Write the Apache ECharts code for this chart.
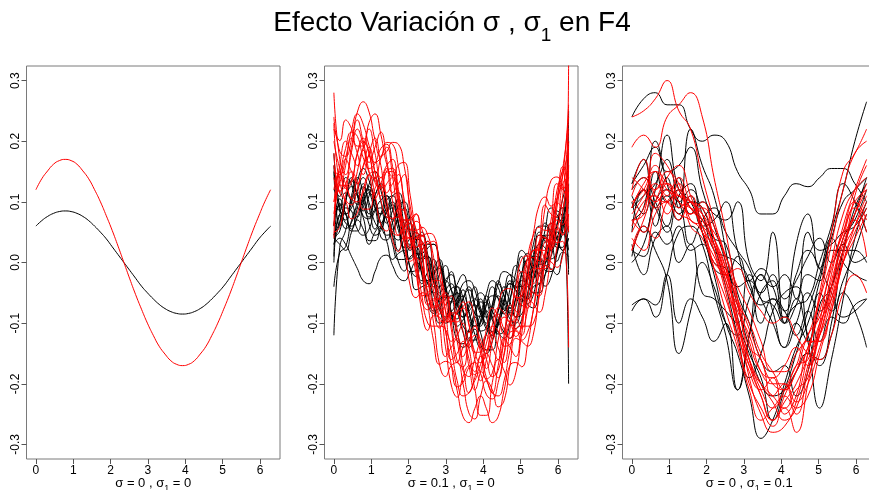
<!DOCTYPE html>
<html><head><meta charset="utf-8">
<script src="https://cdn.jsdelivr.net/npm/echarts@6/dist/echarts.min.js"></script>
<style>html,body{margin:0;padding:0;background:#fff}#c{width:869px;height:490px}</style>
</head><body><div id="c"></div>
<script>
// fine x grid (0 .. 2π, step π/20) for panels 1 and 2
const xsFine = [0, 0.157, 0.314, 0.471, 0.628, 0.785, 0.942, 1.100, 1.257, 1.414, 1.571, 1.728, 1.885, 2.042, 2.199, 2.356, 2.513, 2.670, 2.827, 2.985, 3.142, 3.299, 3.456, 3.613, 3.770, 3.927, 4.084, 4.241, 4.398, 4.555, 4.712, 4.869, 5.027, 5.184, 5.341, 5.498, 5.655, 5.812, 5.969, 6.126, 6.283];
// coarse x grid (0 .. 2π, step π/10) for panel 3
const xsCoarse = [0, 0.314, 0.628, 0.942, 1.257, 1.571, 1.885, 2.199, 2.513, 2.827, 3.142, 3.456, 3.770, 4.084, 4.398, 4.712, 5.027, 5.341, 5.655, 5.969, 6.283];
const xTicks = [0, 1, 2, 3, 4, 5, 6];
const yTicks = [-0.3, -0.2, -0.1, 0, 0.1, 0.2, 0.3];
const panelLabels = [['σ = 0 , σ', '1', ' = 0'], ['σ = 0.1 , σ', '1', ' = 0'], ['σ = 0 , σ', '1', ' = 0.1']];

// Panel 1 (σ = 0, σ1 = 0)
const p1Black = [0.060, 0.069, 0.076, 0.081, 0.084, 0.085, 0.084, 0.081, 0.076, 0.069, 0.060, 0.050, 0.039, 0.026, 0.013, 0, -0.013, -0.026, -0.039, -0.050, -0.060, -0.069, -0.076, -0.081, -0.084, -0.085, -0.084, -0.081, -0.076, -0.069, -0.060, -0.050, -0.039, -0.026, -0.013, 0, 0.013, 0.026, 0.039, 0.050, 0.060];
const p1Red = [0.120, 0.138, 0.151, 0.162, 0.168, 0.170, 0.168, 0.162, 0.151, 0.138, 0.120, 0.100, 0.077, 0.053, 0.027, 0, -0.027, -0.053, -0.077, -0.100, -0.120, -0.138, -0.151, -0.162, -0.168, -0.170, -0.168, -0.162, -0.151, -0.138, -0.120, -0.100, -0.077, -0.053, -0.027, 0, 0.027, 0.053, 0.077, 0.100, 0.120];

// Panel 2 (σ = 0.1, σ1 = 0), on the fine grid
const p2Black = [
[0.18, 0.09, 0.07, 0.11, 0.14, 0.115, 0.08, 0.11, 0.13, 0.095, 0.055, 0.075, 0.09, 0.05, 0.005, 0.02, 0.035, -0.01, -0.05, -0.035, -0.015, -0.055, -0.09, -0.07, -0.04, -0.075, -0.10, -0.07, -0.03, -0.055, -0.075, -0.035, 0.01, -0.01, -0.025, 0.02, 0.065, 0.05, 0.03, 0.075, 0.10],
[0.00, 0.079, 0.056, 0.066, 0.099, 0.125, 0.099, 0.066, 0.056, 0.084, 0.095, 0.064, 0.016, 0.006, 0.024, 0.030, -0.006, -0.054, -0.064, -0.046, -0.035, -0.066, -0.104, -0.114, -0.081, -0.065, -0.081, -0.114, -0.104, -0.066, -0.035, -0.046, -0.064, -0.054, -0.006, 0.030, 0.024, 0.006, 0.016, 0.064, 0.02],
[-0.12, 0.025, 0.053, 0.098, 0.115, 0.103, 0.063, 0.045, 0.053, 0.083, 0.090, 0.063, 0.013, -0.015, -0.013, 0.008, 0.010, -0.023, -0.068, -0.100, -0.093, -0.068, -0.055, -0.083, -0.118, -0.140, -0.118, -0.083, -0.055, -0.068, -0.093, -0.100, -0.068, -0.023, 0.010, 0.008, -0.013, -0.015, 0.013, 0.063, -0.20],
[0.045, 0.080, 0.115, 0.100, 0.075, 0.105, 0.125, 0.100, 0.065, 0.085, 0.100, 0.065, 0.025, 0.040, 0.050, 0.010, -0.030, -0.020, -0.005, -0.045, -0.080, -0.065, -0.045, -0.080, -0.105, -0.085, -0.055, -0.080, -0.095, -0.065, -0.030, -0.045, -0.055, -0.020, 0.020, 0.010, 0.000, 0.040, 0.075, 0.065, 0.25],
[0.12, 0.109, 0.140, 0.129, 0.096, 0.101, 0.129, 0.150, 0.119, 0.081, 0.071, 0.094, 0.100, 0.069, 0.021, 0.006, 0.024, 0.030, -0.001, -0.049, -0.059, -0.036, -0.020, -0.051, -0.084, -0.089, -0.051, -0.030, -0.041, -0.069, -0.059, -0.016, 0.020, 0.009, -0.009, 0.006, 0.054, 0.090, 0.079, 0.061, 0.08],
[0.03, 0.04, 0.03, 0.01, -0.01, -0.03, -0.035, -0.015, 0.008, 0.012, -0.005, -0.025, -0.03, -0.015, 0.000, -0.01, -0.035, -0.05, -0.04, -0.03, -0.045, -0.07, -0.09, -0.08, -0.07, -0.085, -0.11, -0.12, -0.10, -0.08, -0.075, -0.09, -0.085, -0.06, -0.04, -0.035, -0.02, 0.01, 0.03, 0.02, 0.04],
[0.090, 0.085, 0.065, 0.060, 0.075, 0.110, 0.120, 0.105, 0.065, 0.045, 0.050, 0.070, 0.070, 0.045, 0.000, -0.030, -0.030, -0.015, -0.010, -0.040, -0.080, -0.105, -0.095, -0.075, -0.060, -0.080, -0.105, -0.120, -0.095, -0.060, -0.035, -0.040, -0.055, -0.060, -0.030, 0.015, 0.045, 0.045, 0.025, 0.025, 0.13],
[0.042, 0.052, 0.101, 0.135, 0.111, 0.077, 0.072, 0.111, 0.125, 0.096, 0.047, 0.037, 0.061, 0.075, 0.036, -0.018, -0.033, -0.010, 0.005, -0.035, -0.083, -0.093, -0.060, -0.045, -0.070, -0.113, -0.108, -0.070, -0.035, -0.055, -0.083, -0.073, -0.020, 0.015, 0.006, -0.018, -0.003, 0.051, 0.085, 0.076, 0.05],
[0.15, 0.060, 0.100, 0.140, 0.110, 0.085, 0.110, 0.140, 0.100, 0.065, 0.085, 0.105, 0.060, 0.020, 0.035, 0.050, 0.005, -0.040, -0.020, -0.005, -0.045, -0.085, -0.060, -0.040, -0.070, -0.105, -0.070, -0.040, -0.060, -0.085, -0.045, -0.005, -0.020, -0.040, 0.005, 0.050, 0.035, 0.020, 0.060, 0.105, 0.14],
[0.03, 0.065, 0.090, 0.085, 0.055, 0.045, 0.055, 0.085, 0.090, 0.070, 0.030, 0.005, 0.005, 0.025, 0.025, -0.005, -0.050, -0.080, -0.075, -0.060, -0.055, -0.080, -0.115, -0.140, -0.125, -0.100, -0.080, -0.095, -0.115, -0.125, -0.100, -0.060, -0.030, -0.035, -0.050, -0.050, -0.020, 0.025, 0.050, 0.050, -0.01],
[0.060, 0.105, 0.080, 0.055, 0.090, 0.130, 0.090, 0.055, 0.080, 0.110, 0.065, 0.020, 0.040, 0.065, 0.015, -0.035, -0.015, 0.005, -0.040, -0.090, -0.065, -0.040, -0.080, -0.125, -0.090, -0.060, -0.090, -0.125, -0.080, -0.040, -0.065, -0.090, -0.040, 0.005, -0.015, -0.035, 0.015, 0.065, 0.040, 0.020, 0.06],
[-0.04, 0.016, 0.026, 0.069, 0.090, 0.074, 0.036, 0.036, 0.059, 0.075, 0.044, 0.001, -0.014, 0.009, 0.015, -0.021, -0.069, -0.084, -0.061, -0.055, -0.086, -0.129, -0.134, -0.111, -0.090, -0.116, -0.144, -0.144, -0.101, -0.075, -0.086, -0.109, -0.094, -0.051, -0.015, -0.021, -0.039, -0.024, 0.019, 0.055, 0.20],
[0.045, 0.068, 0.103, 0.125, 0.113, 0.093, 0.075, 0.088, 0.103, 0.110, 0.088, 0.053, 0.025, 0.028, 0.038, 0.035, 0.008, -0.033, -0.055, -0.058, -0.043, -0.040, -0.058, -0.093, -0.105, -0.098, -0.068, -0.055, -0.058, -0.078, -0.080, -0.058, -0.018, 0.005, 0.008, -0.003, 0.000, 0.028, 0.063, 0.090, 0.09],
[0.061, 0.095, 0.081, 0.052, 0.052, 0.096, 0.115, 0.091, 0.042, 0.037, 0.066, 0.080, 0.041, -0.008, -0.023, 0.001, 0.010, -0.030, -0.078, -0.093, -0.065, -0.050, -0.080, -0.128, -0.128, -0.095, -0.065, -0.090, -0.118, -0.113, -0.065, -0.030, -0.040, -0.068, -0.053, 0.001, 0.040, 0.031, 0.002, 0.017, 0.01],
[0.16, 0.085, 0.080, 0.105, 0.135, 0.155, 0.135, 0.105, 0.080, 0.090, 0.110, 0.115, 0.085, 0.045, 0.015, 0.015, 0.030, 0.030, 0.005, -0.040, -0.065, -0.060, -0.035, -0.030, -0.045, -0.080, -0.090, -0.075, -0.035, -0.015, -0.020, -0.040, -0.040, -0.015, 0.030, 0.060, 0.060, 0.045, 0.040, 0.070, -0.02],
[0.01, 0.098, 0.080, 0.090, 0.118, 0.140, 0.118, 0.090, 0.080, 0.103, 0.110, 0.083, 0.040, 0.030, 0.043, 0.045, 0.013, -0.030, -0.040, -0.028, -0.020, -0.048, -0.080, -0.090, -0.063, -0.050, -0.063, -0.090, -0.080, -0.048, -0.020, -0.028, -0.040, -0.030, 0.013, 0.045, 0.043, 0.030, 0.040, 0.083, 0.16],
[0.040, 0.030, 0.020, 0.050, 0.070, 0.055, 0.030, 0.050, 0.060, 0.035, 0.005, 0.015, 0.020, -0.010, -0.045, -0.040, -0.035, -0.070, -0.100, -0.095, -0.085, -0.115, -0.140, -0.130, -0.110, -0.135, -0.150, -0.130, -0.100, -0.115, -0.125, -0.095, -0.060, -0.070, -0.075, -0.040, -0.005, -0.010, -0.020, 0.015, 0.04]
];
const p2Red = [
[0.28, 0.170, 0.145, 0.190, 0.235, 0.200, 0.165, 0.190, 0.215, 0.170, 0.115, 0.130, 0.145, 0.080, 0.025, 0.030, 0.035, -0.020, -0.085, -0.070, -0.055, -0.110, -0.155, -0.130, -0.105, -0.140, -0.175, -0.130, -0.085, -0.110, -0.125, -0.070, -0.015, -0.020, -0.035, 0.030, 0.095, 0.080, 0.075, 0.130, 0.14],
[0.06, 0.151, 0.122, 0.132, 0.181, 0.205, 0.181, 0.132, 0.122, 0.151, 0.155, 0.111, 0.052, 0.022, 0.041, 0.035, -0.020, -0.078, -0.108, -0.090, -0.085, -0.130, -0.178, -0.188, -0.160, -0.135, -0.160, -0.188, -0.178, -0.130, -0.085, -0.090, -0.108, -0.078, -0.020, 0.035, 0.041, 0.022, 0.052, 0.111, 0.22],
[0.15, 0.145, 0.173, 0.218, 0.245, 0.228, 0.193, 0.165, 0.173, 0.198, 0.195, 0.158, 0.103, 0.055, 0.053, 0.058, 0.045, 0.008, -0.058, -0.095, -0.098, -0.083, -0.075, -0.103, -0.148, -0.165, -0.148, -0.103, -0.075, -0.083, -0.098, -0.095, -0.058, 0.008, 0.045, 0.058, 0.053, 0.055, 0.103, 0.158, 0.12],
[0.10, 0.13, 0.17, 0.15, 0.13, 0.16, 0.19, 0.15, 0.11, 0.13, 0.14, 0.09, 0.04, 0.04, 0.05, -0.01, -0.07, -0.06, -0.06, -0.11, -0.16, -0.15, -0.13, -0.17, -0.21, -0.18, -0.15, -0.17, -0.19, -0.15, -0.10, -0.11, -0.12, -0.06, -0.01, -0.01, -0.01, 0.04, 0.10, 0.09, 0.33],
[0.22, 0.201, 0.235, 0.221, 0.192, 0.192, 0.231, 0.245, 0.211, 0.162, 0.142, 0.161, 0.165, 0.111, 0.052, 0.022, 0.031, 0.035, -0.020, -0.078, -0.098, -0.080, -0.065, -0.100, -0.148, -0.148, -0.110, -0.075, -0.090, -0.118, -0.098, -0.040, 0.005, 0.011, -0.008, 0.022, 0.091, 0.135, 0.141, 0.122, 0.10],
[0.04, 0.128, 0.103, 0.095, 0.123, 0.158, 0.175, 0.148, 0.103, 0.075, 0.073, 0.088, 0.085, 0.038, -0.018, -0.065, -0.078, -0.063, -0.075, -0.113, -0.168, -0.205, -0.198, -0.173, -0.165, -0.183, -0.218, -0.225, -0.198, -0.153, -0.115, -0.113, -0.128, -0.115, -0.078, -0.013, 0.035, 0.038, 0.033, 0.035, -0.14],
[0.18, 0.115, 0.16, 0.205, 0.18, 0.145, 0.18, 0.205, 0.16, 0.115, 0.13, 0.145, 0.09, 0.025, 0.04, 0.045, -0.02, -0.075, -0.07, -0.055, -0.11, -0.165, -0.14, -0.115, -0.16, -0.195, -0.16, -0.115, -0.14, -0.165, -0.11, -0.055, -0.07, -0.075, -0.02, 0.045, 0.04, 0.025, 0.09, 0.145, 0.18],
[0.05, 0.058, 0.112, 0.150, 0.132, 0.088, 0.088, 0.122, 0.140, 0.102, 0.038, 0.018, 0.042, 0.040, -0.008, -0.082, -0.112, -0.088, -0.090, -0.138, -0.202, -0.222, -0.188, -0.170, -0.208, -0.252, -0.252, -0.198, -0.160, -0.178, -0.202, -0.182, -0.118, -0.060, -0.068, -0.082, -0.052, 0.012, 0.070, 0.062, 0.16],
[0.08, 0.143, 0.188, 0.215, 0.208, 0.173, 0.155, 0.163, 0.188, 0.195, 0.158, 0.103, 0.065, 0.053, 0.068, 0.055, 0.008, -0.048, -0.095, -0.098, -0.083, -0.085, -0.113, -0.158, -0.185, -0.168, -0.133, -0.105, -0.113, -0.138, -0.135, -0.098, -0.043, 0.005, 0.008, 0.003, 0.015, 0.053, 0.118, 0.155, 0.24],
[0.20, 0.155, 0.13, 0.105, 0.15, 0.185, 0.15, 0.105, 0.13, 0.155, 0.10, 0.045, 0.06, 0.065, 0.01, -0.055, -0.05, -0.035, -0.10, -0.155, -0.14, -0.125, -0.17, -0.215, -0.19, -0.155, -0.19, -0.215, -0.17, -0.125, -0.14, -0.155, -0.10, -0.035, -0.05, -0.055, 0.01, 0.065, 0.06, 0.045, 0.20],
[0.14, 0.118, 0.128, 0.182, 0.220, 0.192, 0.148, 0.138, 0.172, 0.190, 0.142, 0.078, 0.058, 0.072, 0.080, 0.022, -0.052, -0.072, -0.058, -0.050, -0.098, -0.162, -0.172, -0.138, -0.120, -0.148, -0.192, -0.182, -0.128, -0.090, -0.098, -0.122, -0.102, -0.028, 0.020, 0.022, 0.008, 0.028, 0.102, 0.150, 0.05],
[0.23, 0.130, 0.125, 0.105, 0.100, 0.115, 0.145, 0.150, 0.125, 0.085, 0.050, 0.045, 0.055, 0.040, 0.005, -0.055, -0.100, -0.105, -0.105, -0.110, -0.145, -0.195, -0.220, -0.215, -0.195, -0.180, -0.195, -0.215, -0.220, -0.195, -0.145, -0.110, -0.105, -0.105, -0.100, -0.055, 0.005, 0.040, 0.055, 0.045, 0.12],
[0.10, 0.16, 0.20, 0.18, 0.16, 0.19, 0.22, 0.18, 0.14, 0.16, 0.17, 0.12, 0.07, 0.07, 0.08, 0.02, -0.04, -0.03, -0.03, -0.08, -0.13, -0.12, -0.10, -0.14, -0.18, -0.15, -0.12, -0.14, -0.16, -0.12, -0.07, -0.08, -0.09, -0.03, 0.02, 0.02, 0.02, 0.07, 0.13, 0.12, 0.18],
[0.16, 0.115, 0.101, 0.072, 0.082, 0.121, 0.145, 0.111, 0.062, 0.052, 0.071, 0.075, 0.031, -0.038, -0.058, -0.050, -0.055, -0.100, -0.168, -0.188, -0.170, -0.165, -0.200, -0.248, -0.258, -0.220, -0.195, -0.210, -0.238, -0.228, -0.170, -0.125, -0.130, -0.138, -0.118, -0.050, 0.005, 0.001, -0.008, 0.012, 0.08],
[0.24, 0.183, 0.175, 0.203, 0.248, 0.265, 0.248, 0.203, 0.175, 0.183, 0.198, 0.195, 0.158, 0.093, 0.055, 0.043, 0.048, 0.045, -0.003, -0.058, -0.095, -0.098, -0.073, -0.065, -0.093, -0.128, -0.145, -0.118, -0.073, -0.045, -0.043, -0.058, -0.055, -0.008, 0.048, 0.095, 0.108, 0.093, 0.105, 0.143, 0.26],
[0.12, 0.149, 0.126, 0.136, 0.179, 0.200, 0.179, 0.136, 0.126, 0.149, 0.150, 0.101, 0.040, 0.002, 0.007, -0.010, -0.069, -0.130, -0.168, -0.163, -0.170, -0.211, -0.254, -0.264, -0.241, -0.220, -0.241, -0.264, -0.254, -0.211, -0.170, -0.165, -0.172, -0.136, -0.077, -0.020, -0.005, -0.012, 0.024, 0.083, 0.15]
];

// Panel 3 (σ = 0, σ1 = 0.1), on the coarse grid
const p3Black = [
[0.24, 0.27, 0.28, 0.26, 0.26, 0.22, 0.20, 0.21, 0.20, 0.15, 0.12, 0.08, 0.08, 0.11, 0.13, 0.125, 0.14, 0.155, 0.155, 0.13, 0.10],
[0.10, 0.05, 0.12, 0.21, 0.12, 0.10, 0.05, -0.02, -0.10, -0.15, -0.22, -0.29, -0.26, -0.20, -0.14, -0.10, -0.03, 0.05, 0.12, 0.20, 0.265],
[-0.08, -0.06, -0.07, -0.02, -0.10, -0.06, -0.09, -0.13, -0.10, -0.21, -0.12, -0.05, -0.03, -0.10, -0.06, -0.12, -0.17, -0.12, -0.05, -0.08, -0.14],
[0.01, 0.06, 0.02, -0.03, -0.15, -0.08, 0.00, -0.04, -0.10, -0.12, -0.06, -0.02, -0.08, -0.14, -0.10, -0.13, -0.05, -0.08, -0.03, 0.02, 0.08],
[0.13, 0.16, 0.19, 0.15, 0.16, 0.19, 0.12, 0.06, 0.00, -0.07, -0.14, -0.20, -0.22, -0.21, -0.18, -0.15, -0.16, -0.10, 0.02, 0.08, 0.14],
[0.07, 0.09, 0.20, 0.13, 0.07, 0.10, 0.09, 0.03, -0.04, -0.12, -0.19, -0.15, -0.08, -0.05, -0.04, -0.13, -0.24, -0.16, -0.06, 0.04, 0.10],
[-0.07, -0.06, -0.09, -0.02, 0.05, 0.06, 0.03, -0.05, -0.12, -0.21, -0.12, -0.02, -0.04, -0.02, -0.06, 0.05, 0.02, 0.03, 0.05, 0.06, 0.09],
[0.12, 0.14, 0.10, 0.06, 0.14, 0.08, 0.10, 0.08, 0.07, 0.10, 0.00, -0.03, 0.05, -0.10, 0.03, 0.08, -0.01, 0.04, 0.00, -0.02, -0.03],
[0.02, 0.01, 0.05, 0.03, 0.06, 0.02, 0.03, -0.01, -0.02, 0.01, -0.04, -0.07, -0.06, -0.08, -0.12, -0.08, -0.13, -0.09, -0.10, -0.07, -0.06],
[0.11, 0.08, 0.15, 0.10, 0.12, 0.09, 0.07, 0.04, 0.03, -0.05, -0.10, -0.16, -0.18, -0.17, -0.22, -0.18, -0.07, -0.04, 0.04, 0.07, 0.12],
[0.05, 0.12, 0.09, 0.05, 0.11, 0.13, 0.05, 0.00, -0.01, -0.04, -0.03, -0.05, -0.02, -0.06, -0.03, 0.01, 0.04, 0.00, 0.03, 0.00, 0.01],
[0.09, 0.11, 0.13, 0.17, 0.09, 0.22, 0.16, 0.11, 0.02, -0.09, -0.15, -0.19, -0.26, -0.21, -0.15, -0.08, -0.02, 0.04, 0.10, 0.12, 0.14],
[0.13, 0.17, 0.09, 0.11, 0.08, 0.11, 0.06, 0.07, 0.10, 0.02, -0.03, -0.01, -0.04, -0.09, -0.07, -0.06, 0.00, 0.06, 0.13, 0.10, 0.05],
[0.03, -0.02, 0.04, 0.06, 0.00, 0.03, -0.05, -0.06, -0.08, -0.10, -0.02, -0.06, -0.10, -0.14, -0.10, -0.05, -0.08, -0.04, 0.02, 0.09, 0.13],
[0.09, 0.12, 0.06, 0.14, 0.10, 0.12, 0.08, 0.02, 0.01, 0.00, -0.03, -0.10, -0.06, -0.08, -0.02, 0.02, -0.01, -0.05, -0.09, -0.08, -0.06],
[0.00, 0.03, 0.10, 0.12, 0.10, 0.03, 0.07, 0.09, 0.05, 0.02, -0.01, -0.06, -0.07, -0.10, -0.07, -0.02, -0.03, 0.02, 0.02, 0.02, 0.00]
];
const p3Red = [
[0.24, 0.25, 0.27, 0.30, 0.25, 0.22, 0.14, 0.07, 0.00, -0.10, -0.17, -0.22, -0.26, -0.23, -0.20, -0.15, -0.05, 0.05, 0.15, 0.18, 0.22],
[0.19, 0.21, 0.19, 0.24, 0.26, 0.28, 0.24, 0.14, 0.05, -0.06, -0.16, -0.22, -0.26, -0.24, -0.28, -0.20, -0.10, 0.00, 0.08, 0.12, 0.14],
[0.08, 0.11, 0.15, 0.11, 0.14, 0.10, 0.08, 0.02, -0.05, -0.13, -0.20, -0.24, -0.27, -0.22, -0.18, -0.12, -0.09, -0.03, 0.04, 0.08, 0.12],
[0.05, 0.09, 0.13, 0.10, 0.08, 0.07, 0.05, 0.00, -0.02, -0.06, -0.11, -0.16, -0.20, -0.21, -0.18, -0.14, -0.08, -0.01, 0.05, 0.10, 0.07],
[0.10, 0.12, 0.16, 0.12, 0.11, 0.10, 0.09, 0.04, -0.03, -0.10, -0.16, -0.20, -0.23, -0.26, -0.24, -0.17, -0.11, -0.02, 0.06, 0.12, 0.17],
[0.02, 0.07, 0.12, 0.13, 0.11, 0.09, 0.07, 0.05, 0.01, -0.04, -0.08, -0.13, -0.18, -0.18, -0.15, -0.12, -0.06, 0.00, 0.05, 0.10, 0.12],
[0.07, 0.08, 0.18, 0.16, 0.12, 0.09, 0.06, -0.01, -0.08, -0.14, -0.21, -0.26, -0.24, -0.22, -0.25, -0.18, -0.12, -0.04, 0.04, 0.09, 0.05],
[0.11, 0.14, 0.12, 0.15, 0.13, 0.08, 0.09, 0.06, 0.01, -0.06, -0.13, -0.18, -0.19, -0.17, -0.14, -0.17, -0.12, -0.05, 0.02, 0.06, 0.10],
[0.09, 0.12, 0.10, 0.12, 0.09, 0.11, 0.05, 0.03, -0.02, -0.09, -0.19, -0.25, -0.28, -0.27, -0.23, -0.15, -0.06, 0.03, 0.12, 0.18, 0.20],
[0.06, 0.10, 0.11, 0.08, 0.12, 0.06, 0.04, -0.01, -0.06, -0.12, -0.17, -0.20, -0.22, -0.24, -0.21, -0.19, -0.11, -0.04, 0.03, 0.07, 0.01],
[0.14, 0.12, 0.09, 0.13, 0.10, 0.08, 0.10, 0.04, -0.01, -0.07, -0.14, -0.16, -0.22, -0.20, -0.24, -0.22, -0.15, -0.08, 0.00, 0.05, 0.09],
[0.07, 0.05, 0.10, 0.14, 0.16, 0.11, 0.06, 0.02, -0.04, -0.10, -0.16, -0.21, -0.24, -0.21, -0.17, -0.13, -0.13, -0.07, 0.01, 0.11, 0.16],
[0.04, 0.02, 0.08, 0.10, 0.07, 0.10, 0.05, 0.01, -0.02, -0.01, -0.05, -0.08, -0.10, -0.09, -0.12, -0.15, -0.16, -0.12, -0.05, -0.02, -0.05],
[0.12, 0.17, 0.11, 0.10, 0.13, 0.07, 0.06, 0.03, -0.02, -0.08, -0.12, -0.18, -0.20, -0.20, -0.23, -0.20, -0.14, -0.08, 0.00, 0.06, 0.11],
[0.02, 0.06, 0.04, 0.10, 0.11, 0.10, 0.07, 0.03, -0.03, -0.07, -0.10, -0.15, -0.18, -0.21, -0.17, -0.16, -0.10, -0.06, 0.00, 0.04, 0.08],
[0.09, 0.13, 0.15, 0.13, 0.10, 0.09, 0.08, 0.04, -0.01, -0.11, -0.18, -0.21, -0.19, -0.25, -0.22, -0.14, -0.12, -0.06, 0.02, 0.08, 0.13]
];

const FONT = 'Liberation Sans, Arial, sans-serif';
const lefts = [26.5, 324.5, 622.5];
const grids = lefts.map(l => ({left: l, top: 66, width: 253.5, height: 393, show: true, borderColor: '#7a7a7a', borderWidth: 1,
  containLabel: false, outerBoundsMode: 'none'}));

const xAxes = lefts.map((l, i) => ({
  type: 'value', gridIndex: i, position: 'bottom', min: -0.2513, max: 6.5345,
  axisLine: {show: false, onZero: false}, splitLine: {show: false},
  axisTick: {show: true, inside: false, length: 5, lineStyle: {color: '#555'}, customValues: xTicks},
  axisLabel: {customValues: xTicks, fontSize: 12, color: '#000', margin: 6, fontFamily: FONT},
  name: '{a|' + panelLabels[i][0] + '}{s|' + panelLabels[i][1] + '}{a|' + panelLabels[i][2] + '}',
  nameLocation: 'middle', nameGap: 18, nameMoveOverlap: false,
  nameTextStyle: {fontFamily: FONT, color: '#000', rich: {
    a: {fontSize: 13, fontFamily: FONT, color: '#000', lineHeight: 16, verticalAlign: 'top'},
    s: {fontSize: 9, fontFamily: FONT, color: '#000', lineHeight: 16, verticalAlign: 'bottom'}
  }}
}));
const yAxes = lefts.map((l, i) => ({
  type: 'value', gridIndex: i, position: 'left', min: -0.324, max: 0.324,
  axisLine: {show: false, onZero: false}, splitLine: {show: false},
  axisTick: {show: true, inside: false, length: 5, lineStyle: {color: '#555'}, customValues: yTicks},
  axisLabel: {customValues: yTicks, rotate: 90, fontSize: 12, color: '#000', margin: 5, fontFamily: FONT,
    formatter: v => v.toFixed(1)}
}));

function mk(xv, vals, color, i) {
  return {type: 'line', xAxisIndex: i, yAxisIndex: i, data: xv.map((x, k) => [x, vals[k]]),
    showSymbol: false, smooth: 0.5, clip: true, silent: true, animation: false,
    lineStyle: {color: color, width: 1}, itemStyle: {color: color}};
}
const series = [];
series.push(mk(xsFine, p1Black, '#000', 0));
series.push(mk(xsFine, p1Red, '#ff0000', 0));
p2Black.forEach(v => series.push(mk(xsFine, v, '#000', 1)));
p2Red.forEach(v => series.push(mk(xsFine, v, '#ff0000', 1)));
p3Black.forEach(v => series.push(mk(xsCoarse, v, '#000', 2)));
p3Red.forEach(v => series.push(mk(xsCoarse, v, '#ff0000', 2)));

const chart = echarts.init(document.getElementById('c'), null, {renderer: 'canvas'});
chart.setOption({
  backgroundColor: '#fff',
  animation: false,
  title: {text: '{t|Efecto Variación σ , σ}{u|1}{t| en F4}', left: 447, top: 4, textAlign: 'center',
    textStyle: {fontWeight: 'normal', rich: {
      t: {fontSize: 28, fontWeight: 'normal', fontFamily: FONT, color: '#000', lineHeight: 36, verticalAlign: 'top'},
      u: {fontSize: 19, fontWeight: 'normal', fontFamily: FONT, color: '#000', lineHeight: 36, verticalAlign: 'bottom'}
    }}},
  grid: grids, xAxis: xAxes, yAxis: yAxes, series: series
});
</script></body></html>
